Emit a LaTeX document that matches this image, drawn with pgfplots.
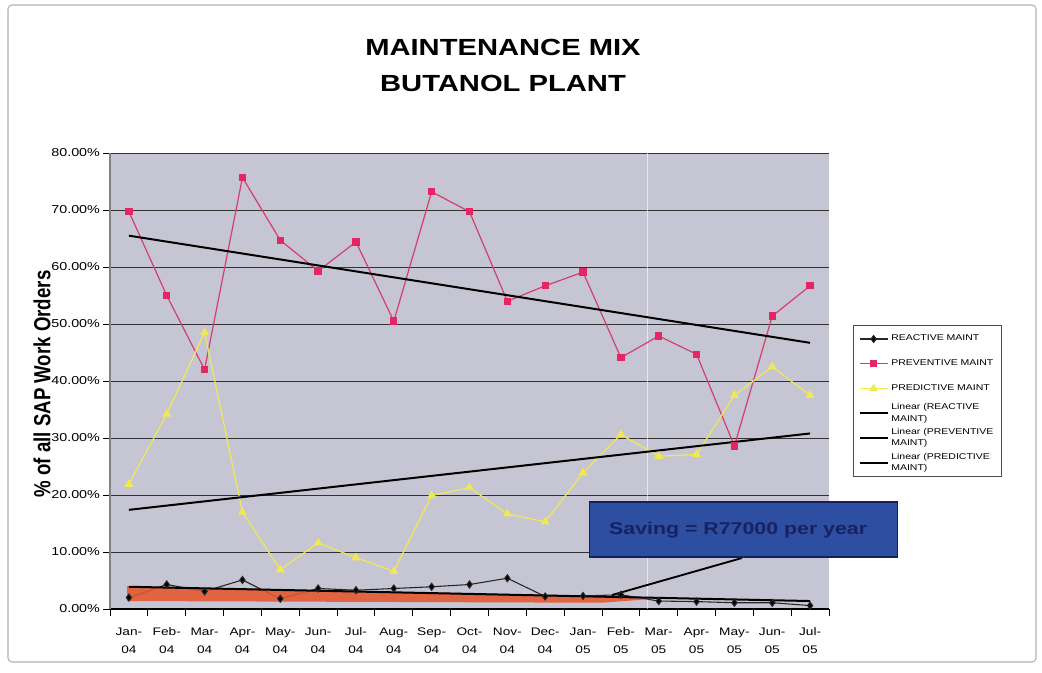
\documentclass[border=0pt]{standalone}
\usepackage{pgfplots}
\pgfplotsset{compat=1.18}
\usepackage{fontspec}
\usepackage{graphicx}
\setmainfont{Liberation Sans}[FakeStretch=1.25]
\newfontfamily\plainsans{Liberation Sans}
\definecolor{plotbg}{RGB}{198,197,211}
\definecolor{pinkline}{RGB}{212,62,110}
\definecolor{pinkmark}{RGB}{230,38,100}
\definecolor{yel}{RGB}{240,232,84}
\definecolor{band}{RGB}{228,86,46}
\definecolor{boxblue}{RGB}{46,78,162}
\definecolor{boxedge}{RGB}{22,32,88}
\definecolor{navy}{RGB}{24,34,96}
\newcommand\st{\rule{0pt}{7pt}}

\pgfplotstableread{
x react prev pred
0  2.0 69.7 21.9
1  4.3 55.0 34.2
2  3.1 42.0 48.5
3  5.1 75.7 17.0
4  1.8 64.7  6.9
5  3.6 59.3 11.6
6  3.3 64.4  9.0
7  3.6 50.5  6.6
8  3.9 73.2 19.9
9  4.3 69.7 21.3
10 5.4 54.0 16.7
11 2.2 56.7 15.3
12 2.3 59.1 23.9
13 2.5 44.1 30.6
14 1.4 47.9 26.8
15 1.3 44.7 27.1
16 1.1 28.6 37.5
17 1.1 51.4 42.5
18 0.6 56.7 37.5
}\datatable

\begin{document}
\begin{tikzpicture}
\useasboundingbox (0,0) rectangle (781.5pt,-504pt);
\draw[gray!60, line width=0.8pt, rounded corners=3pt] (6pt,-3.75pt) rectangle (777pt,-496.5pt);
\node[font=\bfseries\fontsize{17.5}{20}\selectfont] at (377.25pt,-35.25pt) {MAINTENANCE MIX};
\node[font=\bfseries\fontsize{17.5}{20}\selectfont] at (377.25pt,-62.25pt) {BUTANOL PLANT};
\node[rotate=90, inner sep=0pt] at (31.5pt,-288pt) {\scalebox{1}[1.25]{\plainsans\bfseries\fontsize{14}{16}\selectfont \% of all SAP Work Orders}};

\begin{axis}[
  at={(82.5pt,-456.75pt)}, anchor=south west,
  scale only axis, width=539.25pt, height=342pt,
  xmin=-0.5, xmax=18.5, ymin=0, ymax=80,
  clip=false,
  axis background/.style={fill=plotbg},
  axis x line*=bottom, axis y line*=left,
  x axis line style={black, line width=0.8pt},
  y axis line style={gray, line width=0.8pt},
  tick align=outside,
  major tick length=5pt, minor tick length=5pt,
  tick style={black, line width=0.6pt},
  xtick={0,...,18},
  major x tick style={draw=none},
  minor xtick={-0.5,0.5,...,18.5},
  xticklabels={\st Jan-\\04,\st Feb-\\04,\st Mar-\\04,\st Apr-\\04,\st May-\\04,\st Jun-\\04,\st Jul-\\04,\st Aug-\\04,\st Sep-\\04,\st Oct-\\04,\st Nov-\\04,\st Dec-\\04,\st Jan-\\05,\st Feb-\\05,\st Mar-\\05,\st Apr-\\05,\st May-\\05,\st Jun-\\05,\st Jul-\\05},
  xticklabel style={align=center, font=\fontsize{8.2}{13.5}\selectfont, yshift=-4pt},
  ytick={0,10,...,80},
  yticklabels={0.00\%,10.00\%,20.00\%,30.00\%,40.00\%,50.00\%,60.00\%,70.00\%,80.00\%},
  yticklabel style={font=\fontsize{8.6}{9}\selectfont, xshift=1pt},
  ymajorgrids, grid style={black!80, line width=0.75pt},
  legend style={at={(1.0334,0.6228)}, anchor=north west, draw=black!70, fill=white,
    font=\fontsize{6.3}{8.6}\selectfont, row sep=0pt, inner xsep=4pt, inner ysep=1pt,
    nodes={minimum height=18.6pt, inner ysep=0pt, align=left}},
  legend cell align=left,
  legend image code/.code={\draw[mark repeat=2,mark phase=2] plot coordinates {(0pt,0pt)(10.5pt,0pt)(21pt,0pt)};},
]
\draw[white, opacity=0.6, line width=1pt] (axis cs:13.7,0) -- (axis cs:13.7,80);
\addplot[black!85, line width=0.8pt, mark=diamond*, mark size=2.6pt, mark options={fill=black}] table[x=x,y=react] {\datatable};
\addlegendentry{REACTIVE MAINT}
\addplot[pinkline, line width=0.9pt, mark=square*, mark size=2.3pt, mark options={fill=pinkmark, draw=pinkmark}] table[x=x,y=prev] {\datatable};
\addlegendentry{PREVENTIVE MAINT}
\addplot[yel, line width=0.9pt, mark=triangle*, mark size=3pt, mark options={fill=yel, draw=yel}] table[x=x,y=pred] {\datatable};
\addlegendentry{PREDICTIVE MAINT}
\addplot[draw=none, fill=band, fill opacity=0.88, forget plot] coordinates {(-0.05,4.0) (12.5,2.3) (13.9,1.8) (12.5,1.1) (-0.05,1.4)} -- cycle;
\addplot[black, line width=1.5pt] coordinates {(0,3.9) (18,1.4)};
\addlegendentry{Linear (REACTIVE\\MAINT)}
\addplot[black, line width=1.5pt] coordinates {(0,65.5) (18,46.7)};
\addlegendentry{Linear (PREVENTIVE\\MAINT)}
\addplot[black, line width=1.5pt] coordinates {(0,17.4) (18,30.8)};
\addlegendentry{Linear (PREDICTIVE\\MAINT)}
\draw[black, line width=1.4pt] (axis cs:12.77,2.46) -- (axis cs:16.2,8.95);
\draw[fill=boxblue, draw=boxedge, line width=0.9pt] (axis cs:12.18,9.12) rectangle (axis cs:20.30,18.77);
\node[text=navy, font=\bfseries\fontsize{12.8}{14}\selectfont] at (axis cs:16.1,13.9) {Saving = R77000 per year};
\end{axis}
\end{tikzpicture}
\end{document}
